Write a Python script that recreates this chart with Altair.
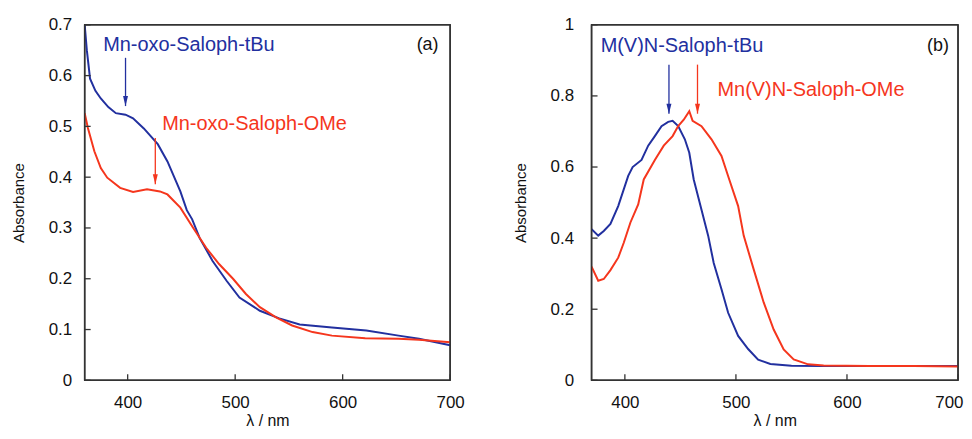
import altair as alt
import pandas as pd

# ---------------- data ----------------
a_tbu_nm = [360, 362, 365, 370, 375, 382, 389, 398, 405, 415, 428, 437, 449, 455, 460, 467,
            479, 492, 504, 523, 541, 560, 590, 622, 652, 671, 700]
a_tbu_abs = [0.700, 0.650, 0.594, 0.570, 0.555, 0.538, 0.526, 0.523, 0.516, 0.496, 0.465, 0.431,
             0.372, 0.335, 0.317, 0.280, 0.235, 0.196, 0.163, 0.137, 0.122, 0.110, 0.104, 0.098,
             0.088, 0.082, 0.069]

a_ome_nm = [360, 363, 369, 375, 381, 393, 405, 418, 430, 437, 449, 461, 473, 485, 498, 510,
            523, 538, 553, 572, 590, 621, 652, 671, 700]
a_ome_abs = [0.526, 0.497, 0.451, 0.418, 0.399, 0.379, 0.371, 0.376, 0.372, 0.366, 0.340, 0.300,
             0.261, 0.229, 0.200, 0.170, 0.144, 0.124, 0.108, 0.095, 0.088, 0.083, 0.082, 0.080,
             0.075]

b_tbu_nm = [370, 376, 381, 387, 394, 403, 407, 415, 421, 427, 433, 439, 443, 448, 454, 458, 462,
            469, 475, 480, 487, 493, 502, 511, 520, 531, 550, 579, 620, 660, 700]
b_tbu_abs = [0.425, 0.407, 0.420, 0.440, 0.490, 0.575, 0.600, 0.620, 0.660, 0.687, 0.715, 0.727,
             0.730, 0.715, 0.678, 0.640, 0.565, 0.480, 0.407, 0.330, 0.256, 0.190, 0.125, 0.088,
             0.058, 0.046, 0.041, 0.040, 0.040, 0.040, 0.040]

b_ome_nm = [370, 376, 381, 387, 394, 399, 405, 412, 417, 427, 435, 443, 448, 453, 458, 461, 469,
            478, 487, 494, 502, 507, 516, 525, 534, 543, 552, 565, 579, 620, 660, 700]
b_ome_abs = [0.320, 0.280, 0.285, 0.310, 0.345, 0.387, 0.444, 0.495, 0.565, 0.620, 0.660, 0.687,
             0.715, 0.733, 0.757, 0.730, 0.715, 0.678, 0.631, 0.565, 0.490, 0.407, 0.312, 0.219,
             0.143, 0.087, 0.059, 0.045, 0.042, 0.040, 0.040, 0.039]

series_names = ["tBu", "OMe"]
series_colors = ["#22309f", "#f5361d"]

x_ticks = [400, 500, 600, 700]
a_y_ticks = [0, 0.1, 0.2, 0.3, 0.4, 0.5, 0.6, 0.7]
b_y_ticks = [0, 0.2, 0.4, 0.6, 0.8, 1.0]

# annotations: text, x (nm), y (absorbance), series
a_labels = [("Mn-oxo-Saloph-tBu", 457, 0.661, "tBu"), ("Mn-oxo-Saloph-OMe", 518, 0.504, "OMe")]
a_arrows = [(398, 0.635, 0.540, "tBu"), (425.7, 0.477, 0.386, "OMe")]
a_tag = ("(a)", 679, 0.66)

b_labels = [("M(V)N-Saloph-tBu", 451.4, 0.941, "tBu"), ("Mn(V)N-Saloph-OMe", 567.6, 0.817, "OMe")]
b_arrows = [(439.7, 0.888, 0.750, "tBu"), (465.4, 0.888, 0.750, "OMe")]
b_tag = ("(b)", 682, 0.94)

FONT = "Liberation Sans"
FRAME = "#333333"
H = 357
TICK = 6

color_scale = alt.Scale(domain=series_names, range=series_colors)


def panel(curves, labels, arrows, tag, xdom, ydom, yticks, lab_expr, lab_pad, W, flush):
    rows = []
    for name, xs_, ys_ in curves:
        for xv, yv in zip(xs_, ys_):
            rows.append({"nm": xv, "A": yv, "s": name})
    df = pd.DataFrame(rows)

    xs = alt.Scale(domain=xdom, nice=False, zero=False)
    ys = alt.Scale(domain=ydom, nice=False, zero=False)

    xkw = dict(labelFlush=1, labelFlushOffset=flush) if flush is not None else dict(labelFlush=False)
    x_axis = alt.Axis(values=x_ticks, title="λ / nm", grid=False, domain=False, ticks=False,
                      labelOverlap=False, labelPadding=14, labelFontSize=17,
                      titleFontSize=16, titlePadding=2, labelFont=FONT, titleFont=FONT,
                      labelColor="#111", titleColor="#111", titleFontWeight="normal", **xkw)
    y_axis = alt.Axis(values=yticks, title="Absorbance", grid=False, domain=False, ticks=False,
                      labelFlush=False, labelOverlap=False,
                      labelPadding=lab_pad, labelFontSize=17, titleFontSize=15,
                      titlePadding=22, labelFont=FONT, titleFont=FONT,
                      labelColor="#111", titleColor="#111", titleFontWeight="normal",
                      labelExpr=lab_expr)

    lines = alt.Chart(df).mark_line(strokeWidth=2, clip=True).encode(
        x=alt.X("nm:Q", scale=xs, axis=x_axis),
        y=alt.Y("A:Q", scale=ys, axis=y_axis),
        color=alt.Color("s:N", scale=color_scale, legend=None),
        detail="s:N",
    )

    # plot frame, drawn in data coordinates from the axis domains
    x0, x1 = xdom
    y0, y1 = ydom
    frame_df = pd.DataFrame([
        {"xa": x0, "xb": x1, "ya": y1, "yb": y1},
        {"xa": x0, "xb": x1, "ya": y0, "yb": y0},
        {"xa": x0, "xb": x0, "ya": y0, "yb": y1},
        {"xa": x1, "xb": x1, "ya": y0, "yb": y1},
    ])
    frame = alt.Chart(frame_df).mark_rule(strokeWidth=1.5).encode(
        x=alt.X("xa:Q", scale=xs), x2="xb:Q",
        y=alt.Y("ya:Q", scale=ys), y2="yb:Q",
        color=alt.value(FRAME))

    # inward tick marks, length expressed in data units of each axis
    dy = (y1 - y0) * TICK / H
    dx = (x1 - x0) * TICK / W
    xt_df = pd.DataFrame({"xa": x_ticks, "ya": [y0] * len(x_ticks), "yb": [y0 + dy] * len(x_ticks)})
    xt = alt.Chart(xt_df).mark_rule(strokeWidth=1.3).encode(
        x=alt.X("xa:Q", scale=xs), y=alt.Y("ya:Q", scale=ys), y2="yb:Q",
        color=alt.value(FRAME))
    yt_df = pd.DataFrame({"ya": yticks, "xa": [x0] * len(yticks), "xb": [x0 + dx] * len(yticks)})
    yt = alt.Chart(yt_df).mark_rule(strokeWidth=1.3).encode(
        y=alt.Y("ya:Q", scale=ys), x=alt.X("xa:Q", scale=xs), x2="xb:Q",
        color=alt.value(FRAME))

    ldf = pd.DataFrame([{"t": t, "nm": xv, "A": yv, "s": s} for t, xv, yv, s in labels])
    texts = alt.Chart(ldf).mark_text(font=FONT, fontSize=20, baseline="middle", align="center").encode(
        x=alt.X("nm:Q", scale=xs), y=alt.Y("A:Q", scale=ys), text="t:N",
        color=alt.Color("s:N", scale=color_scale, legend=None),
    )

    adf = pd.DataFrame([{"nm": xv, "A": ya, "A2": yb, "s": s} for xv, ya, yb, s in arrows])
    shafts = alt.Chart(adf).mark_rule(strokeWidth=1.3).encode(
        x=alt.X("nm:Q", scale=xs), y=alt.Y("A:Q", scale=ys), y2="A2:Q",
        color=alt.Color("s:N", scale=color_scale, legend=None),
    )
    heads = alt.Chart(adf).mark_point(shape="M-0.5,-1L0,1L0.5,-1Z", filled=True, size=100,
                                      opacity=1, yOffset=-5).encode(
        x=alt.X("nm:Q", scale=xs), y=alt.Y("A2:Q", scale=ys),
        color=alt.Color("s:N", scale=color_scale, legend=None),
    )

    tdf = pd.DataFrame([{"t": tag[0], "nm": tag[1], "A": tag[2]}])
    tagm = alt.Chart(tdf).mark_text(font=FONT, fontSize=18, color="#111", baseline="middle").encode(
        x=alt.X("nm:Q", scale=xs), y=alt.Y("A:Q", scale=ys), text="t:N")

    return alt.layer(lines, frame, xt, yt, shafts, heads, texts, tagm).properties(width=W, height=H)


left = panel([("tBu", a_tbu_nm, a_tbu_abs), ("OMe", a_ome_nm, a_ome_abs)],
             a_labels, a_arrows, a_tag, [360, 700], [0, 0.7], a_y_ticks,
             "datum.value == 0 ? '0' : format(datum.value, '.1f')", 13, 367, None)
right = panel([("tBu", b_tbu_nm, b_tbu_abs), ("OMe", b_ome_nm, b_ome_abs)],
              b_labels, b_arrows, b_tag, [370, 700], [0, 1.0], b_y_ticks,
              "datum.value == 0 ? '0' : datum.value == 1 ? '1' : format(datum.value, '.1f')", 18, 368, 5)

chart = alt.hconcat(left, right, spacing=47).properties(
    padding={"left": 2, "top": 6, "right": 0, "bottom": 0}
).configure_view(stroke=FRAME, strokeWidth=1.5)

chart.save("out.html", embed_options={"renderer": "svg", "actions": False})
